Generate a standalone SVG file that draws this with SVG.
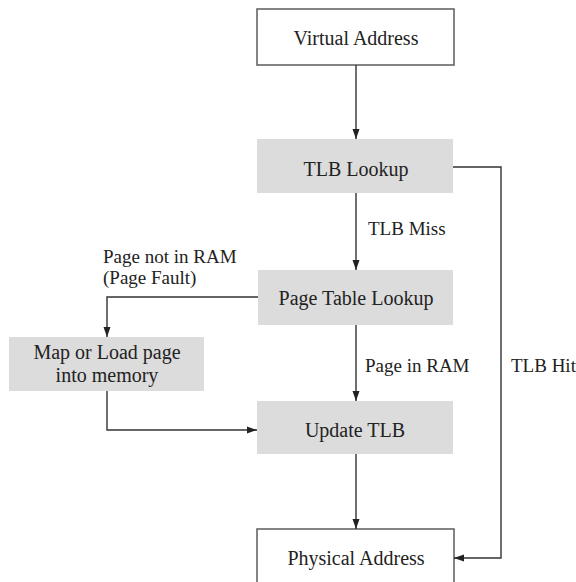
<svg xmlns="http://www.w3.org/2000/svg" width="576" height="582" viewBox="0 0 576 582">
  <style>
    .t { font-family: "Liberation Serif", "Times New Roman", serif; font-size: 20px; fill: #222; }
    .lbl { font-family: "Liberation Serif", "Times New Roman", serif; font-size: 19px; fill: #222; }
    .c { text-anchor: middle; }
    .open { fill: #fff; stroke: #666; stroke-width: 1.6; }
    .step { fill: #dcdcdc; stroke: none; }
    .edge { fill: none; stroke: #333; stroke-width: 1.4; }
  </style>
  <defs>
    <marker id="arrow" viewBox="0 0 10 10" refX="10" refY="5" markerWidth="10" markerHeight="10" markerUnits="userSpaceOnUse" orient="auto">
      <path d="M0,1.5 L10,5 L0,8.5 Z" fill="#222"/>
    </marker>
  </defs>
  <rect width="576" height="582" fill="#fff"/>

  <g id="virtual-address">
    <rect class="open" x="257" y="9" width="197" height="56"/>
    <text class="t c" x="356" y="45">Virtual Address</text>
  </g>
  <g id="tlb-lookup">
    <rect class="step" x="257" y="139" width="196" height="54"/>
    <text class="t c" x="356" y="176">TLB Lookup</text>
  </g>
  <g id="page-table-lookup">
    <rect class="step" x="258" y="270" width="195" height="55"/>
    <text class="t c" x="356" y="305">Page Table Lookup</text>
  </g>
  <g id="map-load">
    <rect class="step" x="9" y="337" width="195" height="54"/>
    <text class="t c" x="107" y="359">Map or Load page</text>
    <text class="t c" x="107" y="382">into memory</text>
  </g>
  <g id="update-tlb">
    <rect class="step" x="257" y="401" width="196" height="53"/>
    <text class="t c" x="355" y="437">Update TLB</text>
  </g>
  <g id="physical-address">
    <rect class="open" x="257" y="529" width="197" height="60"/>
    <text class="t c" x="356" y="565">Physical Address</text>
  </g>

  <g id="connectors">
    <path class="edge" d="M356,65 V139" marker-end="url(#arrow)"/>
    <path class="edge" d="M356,193 V270" marker-end="url(#arrow)"/>
    <path class="edge" d="M356,325 V401" marker-end="url(#arrow)"/>
    <path class="edge" d="M356,454 V529" marker-end="url(#arrow)"/>
    <path class="edge" d="M453,167 H501 V558 H454" marker-end="url(#arrow)"/>
    <path class="edge" d="M258,297 H107 V337" marker-end="url(#arrow)"/>
    <path class="edge" d="M107,391 V430 H257" marker-end="url(#arrow)"/>
    <text class="lbl" x="368" y="235">TLB Miss</text>
    <text class="lbl" x="365" y="372">Page in RAM</text>
    <text class="lbl" x="511" y="372">TLB Hit</text>
    <text class="lbl" x="103" y="263">Page not in RAM</text>
    <text class="lbl" x="103" y="284">(Page Fault)</text>
  </g>
</svg>
